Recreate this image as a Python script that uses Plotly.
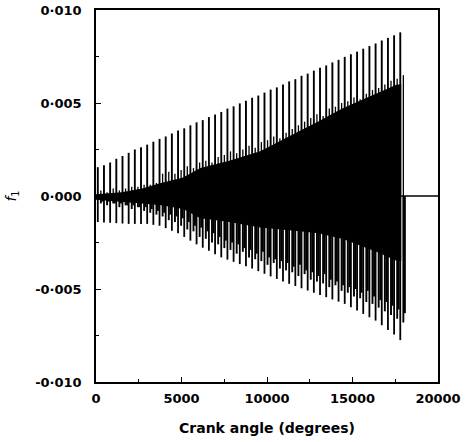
import plotly.graph_objects as go

# ---- data ----
spike_angle = [105, 466, 827, 1188, 1549, 1910, 2271, 2632, 2993, 3354,
               3715, 4076, 4437, 4798, 5159, 5520, 5881, 6242, 6603, 6964,
               7325, 7686, 8047, 8408, 8769, 9130, 9491, 9852, 10213, 10574,
               10935, 11296, 11657, 12018, 12379, 12740, 13101, 13462, 13823, 14184,
               14545, 14906, 15267, 15628, 15989, 16350, 16711, 17072, 17433, 17794]

pos_peak = [0.00155, 0.00165, 0.00180, 0.00200, 0.00215, 0.00232, 0.00250, 0.00262, 0.00276, 0.00292,
            0.00307, 0.00320, 0.00336, 0.00352, 0.00364, 0.00380, 0.00396, 0.00408, 0.00424, 0.00438,
            0.00452, 0.00470, 0.00482, 0.00498, 0.00512, 0.00528, 0.00540, 0.00556, 0.00572, 0.00584,
            0.00600, 0.00616, 0.00628, 0.00646, 0.00658, 0.00674, 0.00690, 0.00702, 0.00718, 0.00732,
            0.00748, 0.00762, 0.00776, 0.00792, 0.00806, 0.00820, 0.00836, 0.00850, 0.00864, 0.00880]

neg_peak = [-0.00140, -0.00142, -0.00144, -0.00146, -0.00148, -0.00150, -0.00150, -0.00150, -0.00150, -0.00155,
            -0.00160, -0.00173, -0.00187, -0.00200, -0.00220, -0.00240, -0.00260, -0.00278, -0.00295, -0.00313,
            -0.00330, -0.00342, -0.00354, -0.00366, -0.00378, -0.00390, -0.00404, -0.00418, -0.00432, -0.00446,
            -0.00460, -0.00472, -0.00484, -0.00496, -0.00508, -0.00520, -0.00532, -0.00544, -0.00556, -0.00568,
            -0.00580, -0.00598, -0.00616, -0.00634, -0.00652, -0.00670, -0.00695, -0.00720, -0.00745, -0.00775]

sec_pos = [0.0003, 0.0002, 0.0004, 0.0003, 0.0004, 0.0005, 0.0005, 0.0006, 0.0006, 0.0007,
           0.0012, 0.0013, 0.0012, 0.0014, 0.0016, 0.0015, 0.0018, 0.0019, 0.0018, 0.0021,
           0.0022, 0.0024, 0.0023, 0.0025, 0.0027, 0.0026, 0.0029, 0.0030, 0.0032, 0.0031,
           0.0034, 0.0036, 0.0038, 0.0040, 0.0042, 0.0044, 0.0043, 0.0047, 0.0048, 0.0050,
           0.0051, 0.0053, 0.0052, 0.0055, 0.0057, 0.0058, 0.0060, 0.0062, 0.0063, 0.0065]

sec_neg_a = [-0.0004, -0.0005, -0.0004, -0.0006, -0.0005, -0.0007, -0.0006, -0.0008, -0.0009, -0.0010,
             -0.0011, -0.0013, -0.0014, -0.0016, -0.0018, -0.0019, -0.0022, -0.0023, -0.0025, -0.0026,
             -0.0028, -0.0029, -0.0031, -0.0030, -0.0033, -0.0034, -0.0035, -0.0037, -0.0036, -0.0039,
             -0.0040, -0.0041, -0.0043, -0.0042, -0.0045, -0.0046, -0.0047, -0.0049, -0.0048, -0.0051,
             -0.0052, -0.0054, -0.0055, -0.0057, -0.0058, -0.0060, -0.0062, -0.0064, -0.0066, -0.0068]

sec_neg_b = [-0.0003, -0.0003, -0.0004, -0.0004, -0.0005, -0.0005, -0.0006, -0.0006, -0.0007, -0.0008,
             -0.0009, -0.0010, -0.0011, -0.0012, -0.0014, -0.0016, -0.0017, -0.0019, -0.0020, -0.0022,
             -0.0024, -0.0025, -0.0026, -0.0028, -0.0029, -0.0031, -0.0030, -0.0033, -0.0034, -0.0035,
             -0.0036, -0.0038, -0.0037, -0.0040, -0.0041, -0.0043, -0.0042, -0.0045, -0.0046, -0.0048,
             -0.0049, -0.0050, -0.0052, -0.0051, -0.0054, -0.0056, -0.0057, -0.0059, -0.0061, -0.0063]

band_angle = [0, 1500, 2700, 3800, 5100, 6100, 7800, 9600, 11900, 13000, 14400, 16400, 17600, 17850]
band_upper = [0.0001, 0.0002, 0.0004, 0.0007, 0.0010, 0.0015, 0.0019, 0.0024, 0.0035, 0.0040, 0.0047, 0.0055, 0.0060, 0.0060]
band_lower = [-0.0002, -0.0003, -0.0004, -0.0005, -0.0007, -0.0012, -0.0014, -0.0017, -0.0019, -0.0020, -0.0023, -0.0030, -0.0035, -0.0035]

zero_angle = [0, 20000]
zero_value = [0.0, 0.0]

x_ticks = [0, 5000, 10000, 15000, 20000]
x_labels = ["0", "5000", "10000", "15000", "20000"]
y_ticks = [0.010, 0.005, 0.0, -0.005, -0.010]
y_labels = ["0·010", "0·005", "0·000", "-0·005", "-0·010"]

# ---- build vertical spike segments ----
def segments(angles, values, offset):
    xs, ys = [], []
    for a, v in zip(angles, values):
        xs += [a + offset, a + offset, None]
        ys += [0.0, v, None]
    return xs, ys

fig = go.Figure()

fig.add_trace(go.Scatter(
    x=band_angle + band_angle[::-1],
    y=band_upper + band_lower[::-1],
    fill="toself", fillcolor="black", mode="lines",
    line=dict(width=0, color="black"), hoverinfo="skip", showlegend=False))

fig.add_trace(go.Scatter(x=zero_angle, y=zero_value, mode="lines",
                         line=dict(color="black", width=1.6), showlegend=False))

for vals, off, w in [(sec_neg_b, 270, 1.9), (sec_neg_a, 180, 1.9), (sec_pos, 180, 1.3),
                     (neg_peak, 0, 1.8), (pos_peak, 0, 1.9)]:
    xs, ys = segments(spike_angle, vals, off)
    fig.add_trace(go.Scatter(x=xs, y=ys, mode="lines",
                             line=dict(color="black", width=w), showlegend=False))

font_family = "DejaVu Sans"
fig.update_layout(
    width=465, height=442,
    margin=dict(l=96, r=27, t=10, b=60),
    paper_bgcolor="white", plot_bgcolor="white",
    font=dict(family=font_family, color="black", size=13),
    showlegend=False,
)
fig.update_xaxes(
    automargin=False,
    range=[0, 20000], tickvals=x_ticks, ticktext=x_labels,
    ticks="inside", ticklen=5, tickwidth=1.2, tickcolor="black",
    minor=dict(ticks="inside", dtick=2500, ticklen=3, tickcolor="black"),
    showline=True, linecolor="black", linewidth=1.5, mirror=True,
    showgrid=False, zeroline=False, ticklabelstandoff=4,
    tickfont=dict(family=font_family, size=13, color="black", weight="bold"),
    title=dict(text="Crank angle (degrees)", standoff=18,
               font=dict(family=font_family, size=14, color="black", weight="bold")),
)
fig.update_yaxes(
    automargin=False,
    range=[-0.010, 0.010], tickvals=y_ticks, ticktext=y_labels,
    ticks="inside", ticklen=5, tickwidth=1.2, tickcolor="black",
    minor=dict(ticks="inside", dtick=0.0025, tick0=0, ticklen=3, tickcolor="black"),
    showline=True, linecolor="black", linewidth=1.5, mirror=True,
    showgrid=False, zeroline=False, ticklabelstandoff=10,
    tickfont=dict(family=font_family, size=13, color="black", weight="bold"),
    title=dict(text="<i>f</i><sub>1</sub>", standoff=15,
               font=dict(family=font_family, size=14, color="black")),
)

# remove the page's default body margin so the figure fills the window exactly
fig.write_html("out.html", config={"displayModeBar": False},
               post_script="document.body.style.margin='0px';")
